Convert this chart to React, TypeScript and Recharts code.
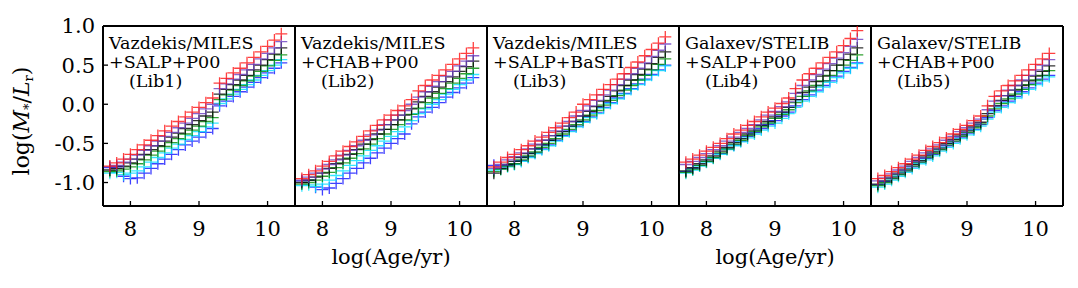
import React from 'react';
import { ScatterChart, Scatter, XAxis, YAxis } from 'recharts';

const AGES = [7.7, 7.8, 7.9, 8.0, 8.1, 8.2, 8.3, 8.4, 8.5, 8.6, 8.7, 8.8, 8.9, 9.0, 9.1, 9.2, 9.3, 9.4, 9.5, 9.6, 9.7, 9.8, 9.9, 10.0, 10.1, 10.2];

const X_TICKS = [8, 9, 10];
const Y_TICKS = [-1.0, -0.5, 0.0, 0.5, 1.0];
const Y_TICK_LABELS: Record<string, string> = { '-1': '-1.0', '-0.5': '-0.5', '0': '0.0', '0.5': '0.5', '1': '1.0' };

const SERIES_COLORS = ['#1010ff', '#00e0ff', '#008a00', '#000000', '#6a3cc0', '#ff1010'];

// Lib1: Vazdekis/MILES +SALP+P00
const LIB1_BLUE = [-0.81, -0.80, -0.92, -0.95, -0.94, -0.88, -0.82, -0.76, -0.70, -0.64, -0.58, -0.52, -0.47, -0.42, -0.36, -0.31, -0.02, 0.04, 0.10, 0.16, 0.22, 0.28, 0.34, 0.40, 0.46, 0.53];
const LIB1_CYAN = [-0.88, -0.87, -0.90, -0.88, -0.85, -0.80, -0.74, -0.68, -0.62, -0.56, -0.51, -0.45, -0.40, -0.35, -0.29, -0.24, 0.01, 0.07, 0.13, 0.19, 0.25, 0.31, 0.37, 0.43, 0.50, 0.57];
const LIB1_GREEN = [-0.86, -0.85, -0.83, -0.80, -0.76, -0.71, -0.65, -0.60, -0.54, -0.49, -0.44, -0.38, -0.33, -0.28, -0.22, -0.17, 0.06, 0.12, 0.18, 0.24, 0.30, 0.36, 0.42, 0.49, 0.56, 0.63];
const LIB1_BLACK = [-0.84, -0.82, -0.79, -0.75, -0.70, -0.64, -0.58, -0.53, -0.47, -0.42, -0.37, -0.31, -0.26, -0.21, -0.15, -0.10, 0.13, 0.19, 0.25, 0.31, 0.37, 0.44, 0.50, 0.57, 0.64, 0.72];
const LIB1_PURPLE = [-0.80, -0.78, -0.74, -0.70, -0.65, -0.59, -0.53, -0.47, -0.41, -0.36, -0.30, -0.24, -0.18, -0.12, -0.06, 0.00, 0.20, 0.26, 0.32, 0.38, 0.44, 0.51, 0.58, 0.65, 0.72, 0.80];
const LIB1_RED = [-0.79, -0.75, -0.70, -0.64, -0.58, -0.52, -0.46, -0.40, -0.34, -0.28, -0.22, -0.16, -0.10, -0.04, 0.02, 0.08, 0.27, 0.33, 0.40, 0.46, 0.53, 0.60, 0.67, 0.74, 0.82, 0.90];

// Lib2: Vazdekis/MILES +CHAB+P00
const LIB2_BLUE = [-0.98, -0.97, -1.06, -1.09, -1.07, -1.01, -0.95, -0.88, -0.82, -0.75, -0.69, -0.62, -0.56, -0.50, -0.44, -0.38, -0.25, -0.16, -0.10, -0.04, 0.02, 0.09, 0.15, 0.21, 0.27, 0.34];
const LIB2_CYAN = [-1.04, -1.03, -1.05, -1.02, -0.97, -0.91, -0.85, -0.78, -0.72, -0.66, -0.59, -0.53, -0.47, -0.41, -0.35, -0.29, -0.21, -0.12, -0.06, 0.00, 0.06, 0.13, 0.19, 0.25, 0.31, 0.38];
const LIB2_GREEN = [-1.02, -1.00, -0.97, -0.92, -0.87, -0.81, -0.75, -0.69, -0.63, -0.57, -0.51, -0.44, -0.38, -0.32, -0.26, -0.20, -0.13, -0.05, 0.02, 0.08, 0.14, 0.20, 0.27, 0.33, 0.39, 0.46];
const LIB2_BLACK = [-1.00, -0.97, -0.93, -0.88, -0.82, -0.76, -0.70, -0.64, -0.58, -0.51, -0.45, -0.38, -0.32, -0.26, -0.20, -0.14, -0.06, 0.03, 0.10, 0.16, 0.22, 0.29, 0.35, 0.42, 0.48, 0.55];
const LIB2_PURPLE = [-0.97, -0.93, -0.88, -0.83, -0.77, -0.71, -0.65, -0.59, -0.53, -0.46, -0.39, -0.33, -0.26, -0.20, -0.14, -0.08, 0.00, 0.09, 0.16, 0.23, 0.29, 0.36, 0.42, 0.49, 0.55, 0.62];
const LIB2_RED = [-0.95, -0.90, -0.85, -0.79, -0.73, -0.66, -0.60, -0.54, -0.48, -0.41, -0.34, -0.27, -0.20, -0.14, -0.08, -0.02, 0.06, 0.17, 0.24, 0.31, 0.37, 0.44, 0.51, 0.58, 0.65, 0.72];

// Lib3: Vazdekis/MILES +SALP+BaSTI
const LIB3_BLUE = [-0.78, -0.80, -0.78, -0.76, -0.72, -0.67, -0.62, -0.57, -0.52, -0.46, -0.40, -0.34, -0.28, -0.22, -0.16, -0.11, -0.04, 0.02, 0.08, 0.14, 0.20, 0.26, 0.32, 0.38, 0.44, 0.50];
const LIB3_CYAN = [-0.84, -0.83, -0.80, -0.77, -0.73, -0.68, -0.63, -0.58, -0.53, -0.47, -0.41, -0.35, -0.29, -0.23, -0.17, -0.12, -0.05, 0.01, 0.07, 0.13, 0.19, 0.25, 0.31, 0.37, 0.43, 0.49];
const LIB3_GREEN = [-0.86, -0.83, -0.79, -0.76, -0.71, -0.66, -0.61, -0.55, -0.50, -0.44, -0.38, -0.32, -0.26, -0.20, -0.14, -0.08, -0.01, 0.05, 0.11, 0.18, 0.24, 0.31, 0.37, 0.44, 0.51, 0.58];
const LIB3_BLACK = [-0.88, -0.82, -0.77, -0.73, -0.68, -0.63, -0.57, -0.52, -0.46, -0.40, -0.35, -0.28, -0.22, -0.15, -0.09, -0.03, 0.04, 0.10, 0.17, 0.24, 0.31, 0.38, 0.45, 0.52, 0.60, 0.67];
const LIB3_PURPLE = [-0.82, -0.77, -0.71, -0.67, -0.62, -0.57, -0.51, -0.46, -0.40, -0.34, -0.28, -0.22, -0.15, -0.08, -0.02, 0.05, 0.12, 0.18, 0.25, 0.32, 0.39, 0.46, 0.53, 0.61, 0.69, 0.77];
const LIB3_RED = [-0.80, -0.74, -0.68, -0.64, -0.58, -0.53, -0.47, -0.42, -0.36, -0.30, -0.24, -0.17, -0.10, 0.00, 0.06, 0.12, 0.19, 0.25, 0.32, 0.39, 0.47, 0.54, 0.62, 0.70, 0.78, 0.86];

// Lib4: Galaxev/STELIB +SALP+P00
const LIB4_BLUE = [-0.86, -0.82, -0.78, -0.73, -0.68, -0.63, -0.57, -0.52, -0.47, -0.41, -0.36, -0.31, -0.26, -0.21, -0.15, -0.10, -0.02, 0.06, 0.12, 0.18, 0.24, 0.30, 0.36, 0.42, 0.47, 0.53];
const LIB4_CYAN = [-0.88, -0.84, -0.79, -0.74, -0.69, -0.64, -0.58, -0.53, -0.48, -0.43, -0.38, -0.33, -0.28, -0.24, -0.18, -0.12, -0.04, 0.04, 0.10, 0.16, 0.22, 0.28, 0.34, 0.40, 0.46, 0.52];
const LIB4_GREEN = [-0.87, -0.83, -0.78, -0.73, -0.68, -0.62, -0.57, -0.51, -0.46, -0.40, -0.35, -0.29, -0.24, -0.18, -0.13, -0.07, 0.02, 0.10, 0.17, 0.24, 0.30, 0.37, 0.43, 0.50, 0.56, 0.63];
const LIB4_BLACK = [-0.85, -0.81, -0.76, -0.71, -0.66, -0.60, -0.55, -0.49, -0.44, -0.38, -0.33, -0.27, -0.22, -0.16, -0.10, -0.04, 0.06, 0.15, 0.22, 0.29, 0.36, 0.43, 0.50, 0.57, 0.64, 0.72];
const LIB4_PURPLE = [-0.77, -0.73, -0.68, -0.63, -0.58, -0.53, -0.47, -0.42, -0.36, -0.31, -0.26, -0.20, -0.14, -0.09, -0.03, 0.03, 0.14, 0.24, 0.31, 0.38, 0.45, 0.52, 0.59, 0.66, 0.74, 0.83];
const LIB4_RED = [-0.74, -0.70, -0.65, -0.60, -0.55, -0.50, -0.44, -0.38, -0.33, -0.27, -0.22, -0.16, -0.10, -0.05, 0.01, 0.08, 0.20, 0.31, 0.39, 0.46, 0.53, 0.60, 0.67, 0.75, 0.84, 0.94];

// Lib5: Galaxev/STELIB +CHAB+P00
const LIB5_BLUE = [-1.03, -0.99, -0.95, -0.90, -0.85, -0.80, -0.74, -0.69, -0.64, -0.58, -0.53, -0.48, -0.42, -0.37, -0.32, -0.26, -0.17, -0.08, -0.02, 0.04, 0.10, 0.16, 0.21, 0.27, 0.32, 0.37];
const LIB5_CYAN = [-1.06, -1.02, -0.97, -0.92, -0.87, -0.82, -0.76, -0.71, -0.66, -0.60, -0.55, -0.50, -0.44, -0.39, -0.33, -0.28, -0.19, -0.10, -0.04, 0.02, 0.08, 0.14, 0.19, 0.25, 0.30, 0.35];
const LIB5_GREEN = [-1.04, -1.00, -0.95, -0.90, -0.85, -0.79, -0.74, -0.68, -0.63, -0.58, -0.52, -0.47, -0.41, -0.36, -0.30, -0.25, -0.15, -0.06, 0.01, 0.07, 0.13, 0.19, 0.25, 0.31, 0.37, 0.43];
const LIB5_BLACK = [-1.02, -0.98, -0.93, -0.88, -0.83, -0.77, -0.72, -0.66, -0.61, -0.56, -0.50, -0.45, -0.39, -0.34, -0.28, -0.23, -0.12, -0.02, 0.05, 0.11, 0.18, 0.24, 0.30, 0.36, 0.42, 0.49];
const LIB5_PURPLE = [-0.98, -0.94, -0.89, -0.84, -0.79, -0.73, -0.68, -0.62, -0.57, -0.52, -0.46, -0.41, -0.35, -0.30, -0.24, -0.19, -0.07, 0.04, 0.11, 0.18, 0.24, 0.31, 0.37, 0.44, 0.50, 0.57];
const LIB5_RED = [-0.95, -0.91, -0.86, -0.81, -0.76, -0.70, -0.65, -0.59, -0.54, -0.49, -0.43, -0.38, -0.32, -0.27, -0.21, -0.15, -0.02, 0.10, 0.17, 0.24, 0.30, 0.37, 0.44, 0.51, 0.58, 0.65];

const PANEL_TITLES = [
  ['Vazdekis/MILES', '+SALP+P00', '(Lib1)'],
  ['Vazdekis/MILES', '+CHAB+P00', '(Lib2)'],
  ['Vazdekis/MILES', '+SALP+BaSTI', '(Lib3)'],
  ['Galaxev/STELIB', '+SALP+P00', '(Lib4)'],
  ['Galaxev/STELIB', '+CHAB+P00', '(Lib5)'],
];

const PANEL_SERIES = [
  [LIB1_BLUE, LIB1_CYAN, LIB1_GREEN, LIB1_BLACK, LIB1_PURPLE, LIB1_RED],
  [LIB2_BLUE, LIB2_CYAN, LIB2_GREEN, LIB2_BLACK, LIB2_PURPLE, LIB2_RED],
  [LIB3_BLUE, LIB3_CYAN, LIB3_GREEN, LIB3_BLACK, LIB3_PURPLE, LIB3_RED],
  [LIB4_BLUE, LIB4_CYAN, LIB4_GREEN, LIB4_BLACK, LIB4_PURPLE, LIB4_RED],
  [LIB5_BLUE, LIB5_CYAN, LIB5_GREEN, LIB5_BLACK, LIB5_PURPLE, LIB5_RED],
];

const X_DOMAIN: [number, number] = [7.6, 10.4];
const Y_DOMAIN: [number, number] = [-1.3, 1.0];

const PANEL_LEFTS = [103, 295, 487, 679, 871];
const PLOT_W = 192;
const SIDE = 50;
const FONT = "'DejaVu Serif', serif";

const makePlus = (color: string) => (props: any) => {
  const { cx, cy } = props;
  if (cx == null || cy == null) return <g />;
  return (
    <path
      d={`M${cx - 6},${cy}h12M${cx},${cy - 6}v12`}
      stroke={color}
      strokeWidth={1.3}
      strokeOpacity={0.8}
      fill="none"
    />
  );
};

const Panel = ({ idx }: { idx: number }) => {
  const series = PANEL_SERIES[idx];
  const showY = idx === 0;
  const axisLine = { stroke: '#000', strokeWidth: 2 };
  const tickLine = { stroke: '#000', strokeWidth: 1.3 };
  return (
    <div style={{ position: 'absolute', left: PANEL_LEFTS[idx] - SIDE, top: 0 }}>
      <ScatterChart width={PLOT_W + 2 * SIDE} height={288} margin={{ top: 0, right: 0, bottom: 0, left: 0 }}>
        <XAxis
          xAxisId="b"
          type="number"
          dataKey="x"
          domain={X_DOMAIN}
          allowDataOverflow
          ticks={X_TICKS}
          height={82}
          orientation="bottom"
          axisLine={axisLine}
          tickLine={tickLine}
          tickSize={-5}
          tickMargin={20}
          tick={{ fill: '#000', fontSize: 21, fontFamily: FONT }}
        />
        <XAxis
          xAxisId="t"
          type="number"
          dataKey="x"
          domain={X_DOMAIN}
          allowDataOverflow
          ticks={X_TICKS}
          height={26}
          orientation="top"
          axisLine={axisLine}
          tickLine={tickLine}
          tickSize={-5}
          tick={false}
        />
        <YAxis
          yAxisId="l"
          type="number"
          dataKey="y"
          domain={Y_DOMAIN}
          allowDataOverflow
          ticks={Y_TICKS}
          width={SIDE}
          orientation="left"
          axisLine={axisLine}
          tickLine={tickLine}
          tickSize={-5}
          tickMargin={13}
          tickFormatter={(v: number) => Y_TICK_LABELS[String(v)] ?? String(v)}
          tick={showY ? { fill: '#000', fontSize: 21, fontFamily: FONT } : false}
        />
        <YAxis
          yAxisId="r"
          type="number"
          dataKey="y"
          domain={Y_DOMAIN}
          allowDataOverflow
          ticks={Y_TICKS}
          width={SIDE}
          orientation="right"
          axisLine={axisLine}
          tickLine={tickLine}
          tickSize={-5}
          tick={false}
        />
        {series.map((vals, si) => (
          <Scatter
            key={si}
            xAxisId="b"
            yAxisId="l"
            data={AGES.map((a, i) => ({ x: a, y: vals[i] }))}
            shape={makePlus(SERIES_COLORS[si])}
            isAnimationActive={false}
          />
        ))}
        <Scatter
          xAxisId="t"
          yAxisId="r"
          data={AGES.map((a, i) => ({ x: a, y: series[0][i] }))}
          shape={() => <g />}
          isAnimationActive={false}
        />
      </ScatterChart>
    </div>
  );
};

export default function App() {
  return (
    <div style={{ position: 'absolute', left: 0, top: 0, width: 1078, height: 288, background: '#fff', fontFamily: FONT }}>
      {PANEL_TITLES.map((_, i) => (
        <Panel key={i} idx={i} />
      ))}
      <svg width={1078} height={288} style={{ position: 'absolute', left: 0, top: 0, pointerEvents: 'none' }}>
        {PANEL_TITLES.map((lines, i) => (
          <g key={i} fontFamily={FONT} fontSize={17.5} fill="#000">
            <text x={PANEL_LEFTS[i] + 6} y={49}>{lines[0]}</text>
            <text x={PANEL_LEFTS[i] + 6} y={68}>{lines[1]}</text>
            <text x={PANEL_LEFTS[i] + 26} y={87}>{lines[2]}</text>
          </g>
        ))}
        <text
          transform="translate(29,121) rotate(-90)"
          textAnchor="middle"
          fontFamily={FONT}
          fontSize={22}
          fill="#000"
        >
          log(<tspan fontStyle="italic">M</tspan>
          <tspan fontSize={13} dy={4}>*</tspan>
          <tspan dy={-4}>/</tspan>
          <tspan fontStyle="italic">L</tspan>
          <tspan fontSize={13} dy={4}>r</tspan>
          <tspan dy={-4}>)</tspan>
        </text>
        <text x={PANEL_LEFTS[1] + PLOT_W / 2} y={264} textAnchor="middle" fontFamily={FONT} fontSize={21} fill="#000">
          log(Age/yr)
        </text>
        <text x={PANEL_LEFTS[3] + PLOT_W / 2} y={264} textAnchor="middle" fontFamily={FONT} fontSize={21} fill="#000">
          log(Age/yr)
        </text>
      </svg>
    </div>
  );
}
